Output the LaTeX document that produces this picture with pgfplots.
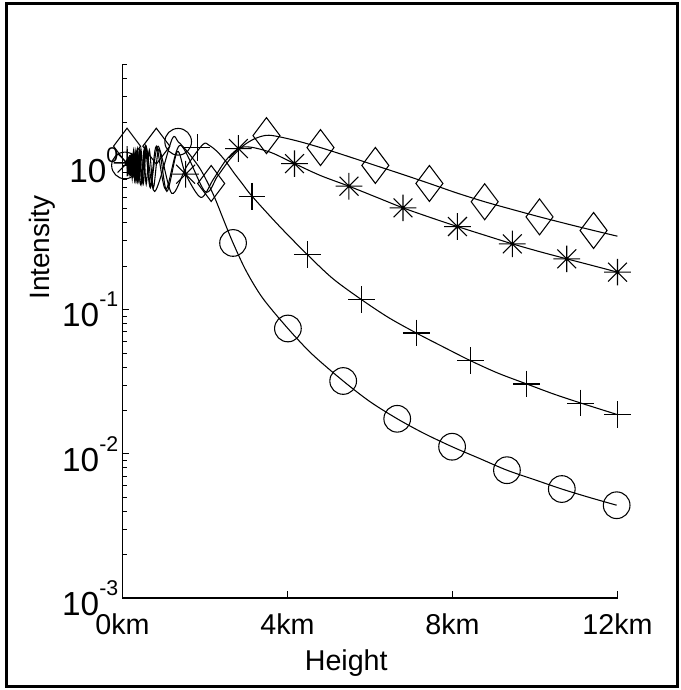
\documentclass[border=0pt]{standalone}
\usepackage{fontspec}
\setmainfont{Liberation Sans}
\usepackage{pgfplots}
\pgfplotsset{compat=1.18}
\pgfdeclareplotmark{mstar}{%
  \pgfpathmoveto{\pgfqpoint{-\pgfplotmarksize}{0pt}}\pgfpathlineto{\pgfqpoint{\pgfplotmarksize}{0pt}}%
  \pgfpathmoveto{\pgfqpoint{0pt}{-\pgfplotmarksize}}\pgfpathlineto{\pgfqpoint{0pt}{\pgfplotmarksize}}%
  \pgfpathmoveto{\pgfqpoint{-0.7071\pgfplotmarksize}{-0.7071\pgfplotmarksize}}\pgfpathlineto{\pgfqpoint{0.7071\pgfplotmarksize}{0.7071\pgfplotmarksize}}%
  \pgfpathmoveto{\pgfqpoint{-0.7071\pgfplotmarksize}{0.7071\pgfplotmarksize}}\pgfpathlineto{\pgfqpoint{0.7071\pgfplotmarksize}{-0.7071\pgfplotmarksize}}%
  \pgfusepathqstroke}
\newcommand{\sss}[1]{\raisebox{0.6em}{\fontsize{16}{18}\selectfont #1}}
\begin{document}
\begin{tikzpicture}
\useasboundingbox (-91.875pt,-69pt) rectangle (418.875pt,448.5pt);
\fill[white] (-91.875pt,-69pt) rectangle (418.875pt,448.5pt);
\begin{axis}[
  scale only axis, width=371.25pt, height=400pt,
  at={(0pt,0pt)}, anchor=south west,
  xmin=0, xmax=12, ymode=log, ymin=1e-3, ymax=5,
  axis x line*=bottom, axis y line*=left,
  axis line style={-, line width=0.9pt},
  xtick={0,4,8,12}, xticklabels={0km,4km,8km,12km},
  ytick={1e-3,1e-2,1e-1,1},
  yticklabels={10\sss{-3},10\sss{-2},10\sss{-1},10\sss{0}},
  minor ytick={2e-3,3e-3,4e-3,5e-3,6e-3,7e-3,8e-3,9e-3,2e-2,3e-2,4e-2,5e-2,6e-2,7e-2,8e-2,9e-2,0.2,0.3,0.4,0.5,0.6,0.7,0.8,0.9,2,3,4,5},
  tick align=inside,
  major tick length=5pt, minor tick length=3.5pt,
  tick style={black, line width=0.75pt},
  xticklabel style={font=\fontsize{21.5}{25}\selectfont, anchor=base, yshift=-27pt},
  yticklabel style={font=\fontsize{25}{28}\selectfont, anchor=east, inner sep=0pt, xshift=-3pt},
  every axis x label/.style={at={(axis description cs:0.452,-0.135)}, anchor=base, font=\fontsize{21.5}{25}\selectfont},
  every axis y label/.style={at={(axis description cs:-0.1465,0.657)}, rotate=90, anchor=base, font=\fontsize{21}{25}\selectfont},
  xlabel={Height}, ylabel={Intensity},
  clip=false,
]
% circles
\addplot[black, line width=0.8pt, smooth, no markers] coordinates {
(0.06,1.00) (0.128,1.12) (0.137,0.88) (0.148,1.15) (0.160,0.86) (0.174,1.18) (0.191,0.84) (0.211,1.22) (0.235,0.81) (0.266,1.26) (0.306,0.78) (0.361,1.30) (0.440,0.74) (0.562,1.38) (0.779,0.66) (1.2,1.52) (1.35,1.46) (1.6,1.22) (1.9,0.93) (2.2,0.63) (2.45,0.42) (2.68,0.29) (3.0,0.185) (3.4,0.12) (4.01,0.074) (4.6,0.049) (5.35,0.032) (6.0,0.023) (6.66,0.0175) (7.3,0.0139) (7.99,0.0112) (8.65,0.0093) (9.32,0.0077) (10.0,0.0066) (10.65,0.0057) (11.3,0.005) (11.98,0.0044)};
\addplot[black, only marks, mark=o, mark size=10pt, line width=0.8pt] coordinates {
(0.06,1.0) (1.35,1.46) (2.68,0.29) (4.01,0.074) (5.35,0.032) (6.66,0.0175) (7.99,0.0112) (9.32,0.0077) (10.65,0.0057) (11.98,0.0044)};
% plus
\addplot[black, line width=0.8pt, smooth, no markers] coordinates {
(0.11,1.05) (0.135,0.9) (0.15,1.1) (0.162,0.88) (0.173,1.13) (0.184,0.87) (0.197,1.16) (0.211,0.85) (0.227,1.19) (0.246,0.83) (0.267,1.22) (0.293,0.80) (0.324,1.25) (0.361,0.78) (0.408,1.28) (0.470,0.74) (0.554,1.32) (0.675,0.70) (0.863,1.36) (1.196,0.64) (1.55,0.98) (1.95,1.40) (2.1,1.38) (2.3,1.245) (2.5,1.07) (2.7,0.89) (2.9,0.75) (3.14,0.612) (3.8,0.38) (4.48,0.241) (5.1,0.164) (5.8,0.117) (6.45,0.0881) (7.12,0.0689) (7.8,0.0547) (8.44,0.0442) (9.1,0.0363) (9.8,0.0305) (10.45,0.026) (11.11,0.0225) (12.0,0.0187)};
\addplot[black, only marks, mark=+, mark size=10pt, line width=0.8pt] coordinates {
(0.11,1.05) (1.81,1.33) (3.14,0.612) (4.48,0.241) (5.80,0.117) (7.12,0.0689) (8.44,0.0442) (9.80,0.0305) (11.11,0.0225) (12,0.0187)};
% stars
\addplot[black, line width=0.8pt, smooth, no markers] coordinates {
(0.11,1.04) (0.15,0.9) (0.163,1.1) (0.176,0.89) (0.19,1.10) (0.201,0.885) (0.210,1.11) (0.219,0.88) (0.229,1.12) (0.240,0.87) (0.252,1.14) (0.266,0.86) (0.281,1.16) (0.298,0.84) (0.317,1.18) (0.338,0.82) (0.363,1.20) (0.392,0.80) (0.426,1.22) (0.466,0.78) (0.515,1.25) (0.575,0.74) (0.651,1.28) (0.749,0.70) (0.883,1.30) (1.075,0.66) (1.33,1.25) (1.53,0.87) (1.902,0.60) (2.2,0.80) (2.5,1.08) (2.81,1.31) (3.1,1.34) (3.6,1.23) (4.17,1.03) (4.8,0.851) (5.49,0.718) (6.15,0.603) (6.8,0.508) (7.45,0.437) (8.12,0.377) (8.8,0.327) (9.45,0.286) (10.1,0.253) (10.77,0.225) (11.4,0.202) (12,0.182)};
\addplot[black, only marks, mark=mstar, mark size=10pt, line width=0.8pt] coordinates {
(0.11,1.04) (1.53,0.87) (2.81,1.31) (4.17,1.03) (5.49,0.718) (6.80,0.508) (8.12,0.377) (9.45,0.286) (10.77,0.225) (12,0.182)};
% diamonds
\addplot[black, line width=0.8pt, smooth, no markers] coordinates {
(0.11,1.36) (0.125,0.9) (0.14,1.14) (0.153,0.89) (0.166,1.16) (0.174,0.88) (0.183,1.17) (0.193,0.87) (0.204,1.18) (0.216,0.86) (0.229,1.2) (0.244,0.84) (0.261,1.22) (0.28,0.82) (0.303,1.24) (0.33,0.8) (0.362,1.27) (0.40,0.78) (0.447,1.3) (0.505,0.75) (0.58,1.33) (0.68,0.72) (0.82,1.36) (1.05,0.68) (1.4,1.38) (2.0,0.66) (2.3,0.84) (2.6,1.1) (2.9,1.35) (3.2,1.53) (3.55,1.62) (4.15,1.5) (4.80,1.33) (5.45,1.16) (6.13,1.0) (6.8,0.865) (7.44,0.75) (8.1,0.645) (8.78,0.56) (9.45,0.495) (10.11,0.44) (10.75,0.395) (11.42,0.354) (12,0.323)};
\addplot[black, only marks, mark=diamond, mark size=13.5pt, line width=0.8pt] coordinates {
(0.11,1.36) (0.82,1.36) (2.15,0.75) (3.49,1.61) (4.80,1.33) (6.13,1.0) (7.44,0.75) (8.78,0.56) (10.11,0.44) (11.42,0.354)};
\end{axis}
\draw[line width=2.25pt] (-87pt,-66pt) rectangle (415.9pt,445.9pt);
\end{tikzpicture}
\end{document}
